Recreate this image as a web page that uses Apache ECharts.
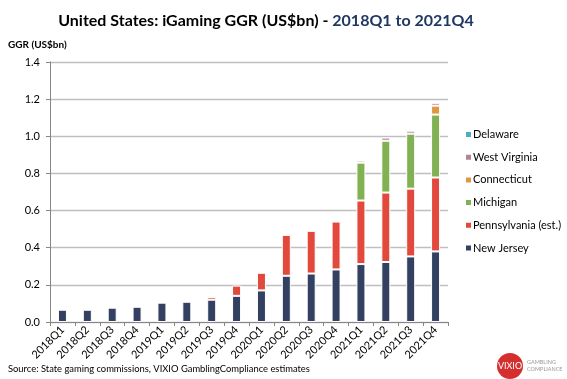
<!DOCTYPE html>
<html><head><meta charset="utf-8">
<script src="https://cdn.jsdelivr.net/npm/echarts@6/dist/echarts.min.js"></script>
<style>html,body{margin:0;padding:0;background:#fff}#c{width:567px;height:379px}</style>
</head><body><div id="c"></div>
<script>
const categories = ['2018Q1','2018Q2','2018Q3','2018Q4','2019Q1','2019Q2','2019Q3','2019Q4','2020Q1','2020Q2','2020Q3','2020Q4','2021Q1','2021Q2','2021Q3','2021Q4'];
const newJersey    = [0.066,0.066,0.077,0.082,0.104,0.109,0.120,0.141,0.170,0.249,0.261,0.283,0.312,0.323,0.353,0.380];
const pennsylvania = [0,0,0,0,0,0,0.014,0.055,0.095,0.220,0.230,0.258,0.342,0.374,0.365,0.398];
const michigan     = [0,0,0,0,0,0,0,0,0,0,0,0,0.204,0.279,0.296,0.339];
const connecticut  = [0,0,0,0,0,0,0,0,0,0,0,0,0,0,0,0.048];
const westVirginia = [0,0,0,0,0,0,0,0,0,0,0,0.008,0.011,0.017,0.016,0.015];
const delaware     = [0,0,0,0,0,0,0,0,0,0,0,0,0,0,0,0];
const yTicks = [0,0.2,0.4,0.6,0.8,1.0,1.2,1.4];

const FONT = 'Lato';
const chart = echarts.init(document.getElementById('c'));
function s(name, data, color){
  return {name, type:'bar', stack:'t', data: data.map(v=>v===0?null:v), barWidth:9,
    itemStyle:{color, borderColor:'#fff', borderWidth:1}};
}
chart.setOption({
  animation:false,
  textStyle:{fontFamily:FONT},
  title:{text:'{a|United States: iGaming GGR (US$bn) - }{b|2018Q1 to 2021Q4}', left:261, textAlign:'center', top:8,
    textStyle:{rich:{a:{fontFamily:FONT,fontWeight:'bold',fontSize:16,color:'#000'},b:{fontFamily:FONT,fontWeight:'bold',fontSize:16,color:'#1F3864'}}}},
  grid:{left:50, right:119, top:62, bottom:57},
  legend:{orient:'vertical', left:459, top:124, itemGap:11.7, itemWidth:7, itemHeight:7, icon:'rect',
    data:['Delaware','West Virginia','Connecticut','Michigan','Pennsylvania (est.)','New Jersey'],
    textStyle:{fontFamily:FONT,fontSize:11,color:'#000',padding:[0,0,0,-4]}},
  xAxis:{type:'category', data:categories,
    axisLine:{lineStyle:{color:'#868686'}}, axisTick:{show:true, lineStyle:{color:'#868686'}, length:4},
    axisLabel:{rotate:45, fontSize:11, color:'#000', fontFamily:FONT, margin:6, interval:0}},
  yAxis:{type:'value', min:0, max:1.4, interval:0.2,
    name:'GGR (US$bn)', nameLocation:'end', nameGap:12, nameTextStyle:{align:'left', padding:[0,0,0,-42], fontWeight:'bold', fontSize:10, color:'#000'},
    axisLine:{show:true, lineStyle:{color:'#868686'}}, axisTick:{show:true, length:4, lineStyle:{color:'#868686'}},
    axisLabel:{fontSize:11, color:'#000', margin:10, formatter:v=>{const i=yTicks.findIndex(t=>Math.abs(t-v)<1e-6);return i>=0?yTicks[i].toFixed(1):'';}},
    splitLine:{lineStyle:{color:'#BFBFBF', width:1.3}}},
  series:[
    s('New Jersey', newJersey, '#334061'),
    s('Pennsylvania (est.)', pennsylvania, '#E2483C'),
    s('Michigan', michigan, '#82B153'),
    s('Connecticut', connecticut, '#E0973F'),
    s('West Virginia', westVirginia, '#B18499'),
    s('Delaware', delaware, '#4BACC6')
  ],
  graphic:[
    {type:'text', left:8, top:364, style:{text:'Source: State gaming commissions, VIXIO GamblingCompliance estimates', fontFamily:FONT, fontSize:9.4, fill:'#000'}},
    {type:'circle', shape:{cx:510, cy:366, r:13}, style:{fill:'#D42E2E'}},
    {type:'text', x:510, y:366, style:{text:'VIXIO', fontFamily:FONT, fontSize:9, fill:'#fff', align:'center', verticalAlign:'middle'}},
    {type:'text', x:527, y:359, style:{text:'GAMBLING\nCOMPLIANCE', fontFamily:FONT, fontSize:5.5, lineHeight:6.5, fill:'#999'}}
  ]
});
</script></body></html>
